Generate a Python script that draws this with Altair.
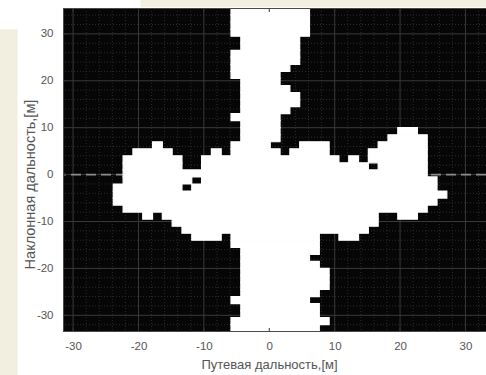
import altair as alt
import pandas as pd

# ---------------- data ----------------
cell = 1.5            # map cell size, m
col0 = -31.35         # left edge of column 0, m
row0 = 35.5           # top edge of row 0, m

# white (occupied) runs per map row, from top to bottom: (first column, last column)
runs = [
    [(17, 24)], [(17, 24)], [(17, 24)], [(17, 24)],
    [(18, 23)], [(18, 23)],
    [(17, 23)], [(17, 23)],
    [(17, 22)],
    [(17, 21)],
    [(18, 21)],
    [(18, 22)],
    [(18, 23)], [(18, 23)],
    [(18, 22)],
    [(17, 21)],
    [(18, 21)],
    [(18, 21), (34, 35)],
    [(18, 21), (33, 36)],
    [(9, 9), (17, 20), (24, 26), (32, 36)],
    [(7, 10), (15, 15), (17, 21), (23, 26), (31, 36)],
    [(6, 11), (14, 27), (29, 29), (31, 36)],
    [(6, 11), (14, 30), (32, 36)],
    [(6, 36)],
    [(6, 12), (14, 37)],
    [(5, 11), (13, 37)],
    [(5, 38)],
    [(5, 37)],
    [(6, 36)],
    [(8, 8), (10, 31), (34, 35)],
    [(11, 31)],
    [(12, 30)],
    [(13, 15), (17, 25), (28, 29)],
    [(17, 25)],
    [(18, 25)],
    [(18, 24)],
    [(18, 25)],
    [(18, 26)], [(18, 26)], [(18, 26)],
    [(18, 25)],
    [(17, 24)],
    [(18, 25)], [(18, 25)],
    [(17, 26)],
    [(17, 25)],
]

x_ticks = [-30, -20, -10, 0, 10, 20, 30]
y_ticks = [-30, -20, -10, 0, 10, 20, 30]
minor_x = [-28, -26, -24, -22, -18, -16, -14, -12, -8, -6, -4, -2,
           2, 4, 6, 8, 12, 14, 16, 18, 22, 24, 26, 28, 32]
minor_y = [-32, -28, -26, -24, -22, -18, -16, -14, -12, -8, -6, -4, -2,
           2, 4, 6, 8, 12, 14, 16, 18, 22, 24, 26, 28, 32, 34]
x_title = "Путевая дальность,[м]"
y_title = "Наклонная дальность,[м]"
x_domain = [-31.54, 33.14]
y_domain = [-33.56, 35.52]

# ---------------- build tables ----------------
rows = []
for r, row in enumerate(runs):
    for a, b in row:
        rows.append({
            "x": col0 + a * cell, "x2": col0 + (b + 1) * cell,
            "y": row0 - r * cell, "y2": row0 - (r + 1) * cell,
        })
cells = pd.DataFrame(rows)

W, H = 423, 324
FONT = "Liberation Sans"
TXT = "#555555"
LBL = "'' + datum.value"   # plain hyphen-minus like the original

xs = alt.Scale(domain=x_domain, nice=False, zero=False)
ys = alt.Scale(domain=y_domain, nice=False, zero=False)

x_axis = alt.Axis(
    values=x_ticks, title=x_title, grid=False, ticks=False, tickSize=0,
    domain=False, labelPadding=8, labelFontSize=11.5, labelFont=FONT,
    labelColor=TXT, labelExpr=LBL, titleFont=FONT, titleFontSize=13,
    titleFontWeight="normal", titleColor=TXT, titleX=206, titleY=32,
    titleBaseline="middle")
y_axis = alt.Axis(
    values=y_ticks, title=y_title, grid=False, ticks=False, tickSize=0,
    domain=False, labelPadding=10, labelFontSize=11.5, labelFont=FONT,
    labelColor=TXT, labelExpr=LBL, titleFont=FONT, titleFontSize=14.5,
    titleFontWeight="normal", titleColor=TXT, titleX=-33, titleY=176,
    titleBaseline="middle")

mask = alt.Chart(cells).mark_rect(
    color="white", stroke="white", strokeWidth=1.2
).encode(
    x=alt.X("x:Q", scale=xs, axis=x_axis),
    x2="x2:Q",
    y=alt.Y("y:Q", scale=ys, axis=y_axis),
    y2="y2:Q",
)

minor_v = alt.Chart(pd.DataFrame({"v": minor_x})).mark_rule(
    color="#2c2c2c", strokeWidth=1, strokeDash=[1, 2]
).encode(x=alt.X("v:Q", scale=xs))
minor_h = alt.Chart(pd.DataFrame({"v": minor_y})).mark_rule(
    color="#2c2c2c", strokeWidth=1, strokeDash=[1, 2]
).encode(y=alt.Y("v:Q", scale=ys))
major_v = alt.Chart(pd.DataFrame({"v": x_ticks})).mark_rule(
    color="#3a3a3a", strokeWidth=1
).encode(x=alt.X("v:Q", scale=xs))
major_h = alt.Chart(pd.DataFrame({"v": y_ticks})).mark_rule(
    color="#3a3a3a", strokeWidth=1
).encode(y=alt.Y("v:Q", scale=ys))

zero_line = alt.Chart(pd.DataFrame({"v": [0]})).mark_rule(
    color="#8c8c8c", strokeWidth=1.6, strokeDash=[10, 5]
).encode(y=alt.Y("v:Q", scale=ys))

tick_top = alt.Chart(pd.DataFrame({"v": x_ticks})).mark_rule(
    color="#333333", strokeWidth=1
).encode(x=alt.X("v:Q", scale=xs), y=alt.value(0), y2=alt.value(4))
tick_bot = alt.Chart(pd.DataFrame({"v": x_ticks})).mark_rule(
    color="#333333", strokeWidth=1
).encode(x=alt.X("v:Q", scale=xs), y=alt.value(H - 4), y2=alt.value(H))
tick_left = alt.Chart(pd.DataFrame({"v": y_ticks})).mark_rule(
    color="#333333", strokeWidth=1
).encode(y=alt.Y("v:Q", scale=ys), x=alt.value(0), x2=alt.value(4))

# axes box (dark, only visible where the map is white)
one = pd.DataFrame({"k": [0]})
BOX = "#4a4a4a"
box_bottom = alt.Chart(one).mark_rule(color=BOX, strokeWidth=1).encode(
    x=alt.value(0), x2=alt.value(W), y=alt.value(H - 0.5))
box_top = alt.Chart(one).mark_rule(color=BOX, strokeWidth=1).encode(
    x=alt.value(0), x2=alt.value(W), y=alt.value(0.5))
box_left = alt.Chart(one).mark_rule(color=BOX, strokeWidth=1).encode(
    x=alt.value(0.5), y=alt.value(0), y2=alt.value(H))

BEIGE = "#f2eee0"
beige_left = alt.Chart(one).mark_rect(color=BEIGE).encode(
    x=alt.value(-63), x2=alt.value(-45.5), y=alt.value(21), y2=alt.value(367))
beige_top = alt.Chart(one).mark_rect(color=BEIGE).encode(
    x=alt.value(77.5), x2=alt.value(W), y=alt.value(-8), y2=alt.value(-0.8))

chart = alt.layer(
    minor_v, minor_h, major_v, major_h, zero_line, mask,
    tick_top, tick_bot, tick_left, box_bottom, box_top, box_left,
    beige_left, beige_top
).properties(
    width=W, height=H,
    autosize=alt.AutoSizeParams(type="none"),
    padding={"left": 63, "top": 8, "right": 0, "bottom": 43},
    background="white",
).configure_view(fill="#060606", stroke=None)

chart.save("out.html", embed_options={"renderer": "svg", "actions": False})
